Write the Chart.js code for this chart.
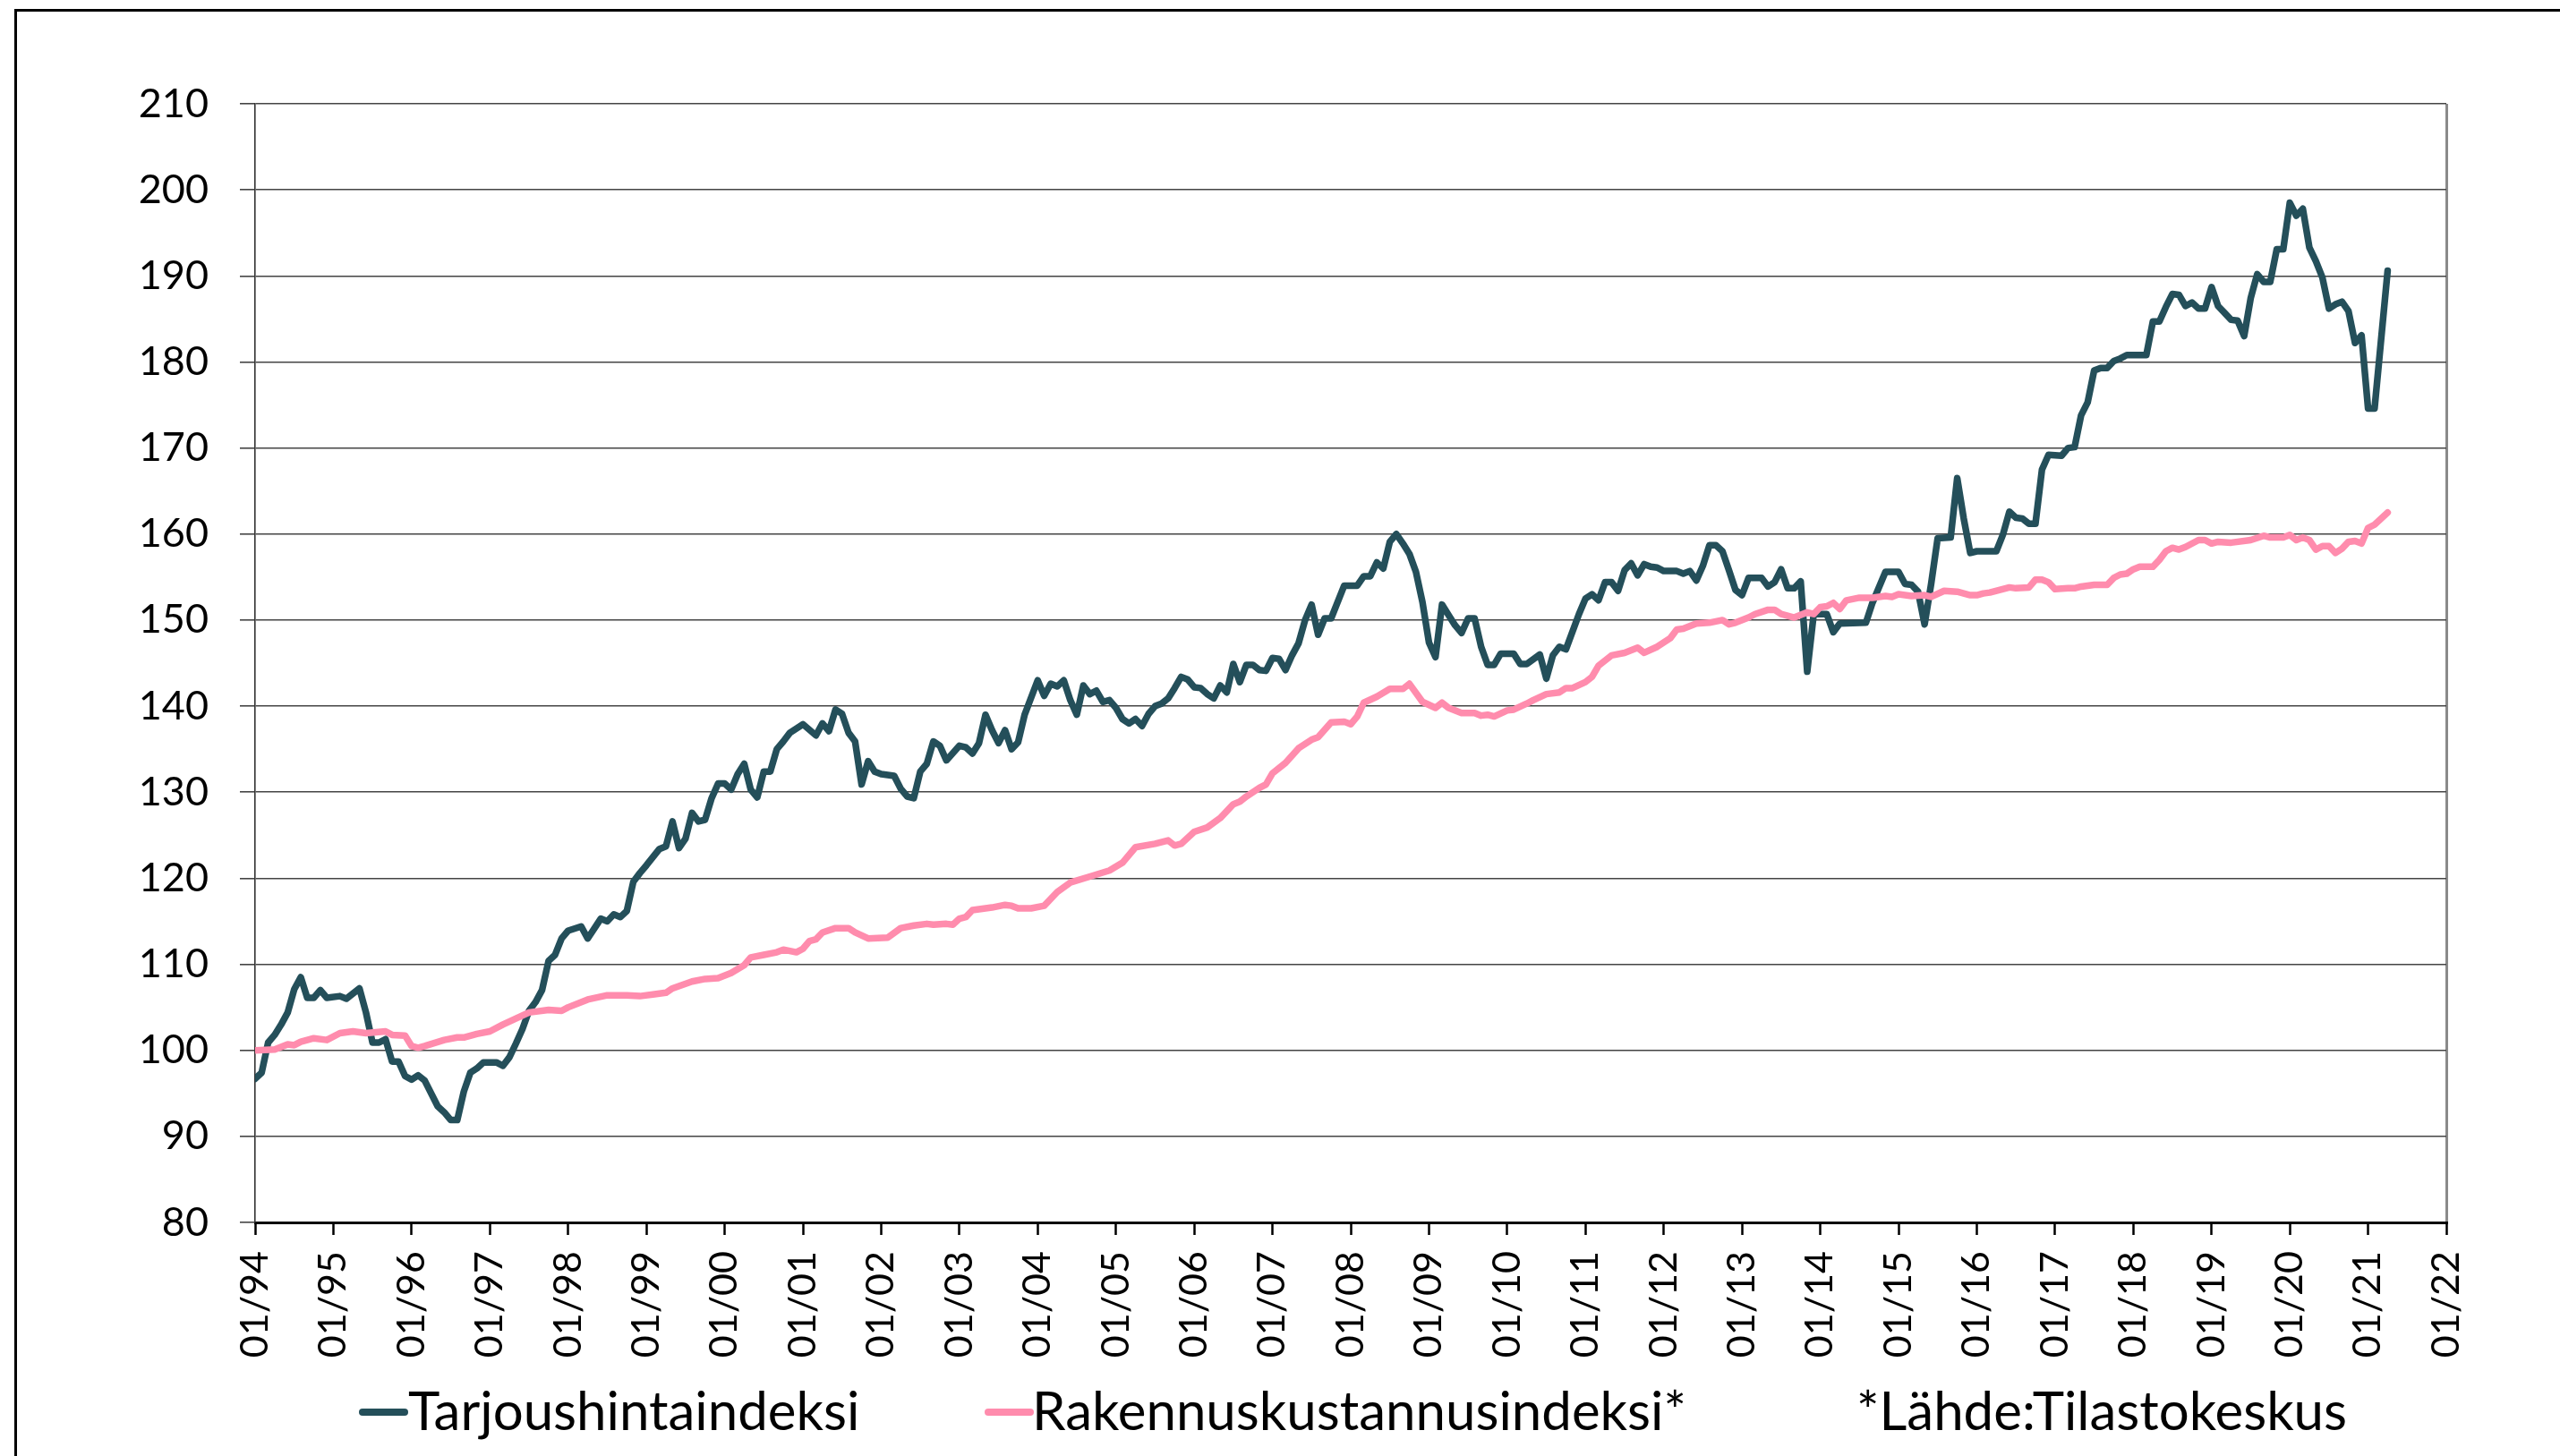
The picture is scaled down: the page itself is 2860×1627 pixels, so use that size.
<!DOCTYPE html>
<html lang="fi">
<head>
<meta charset="utf-8">
<title>Tarjoushintaindeksi ja Rakennuskustannusindeksi</title>
<script src="https://cdn.jsdelivr.net/npm/chart.js@4.4.1/dist/chart.umd.min.js"></script>
<style>
    html, body { margin: 0; padding: 0; background: #fff; overflow: hidden; }
    #kehys { position: absolute; left: 16px; top: 10px; width: 2900px; height: 1700px; border: 3px solid #000; }
    #kaavio { position: absolute; left: 0; top: 0; }
    #selite { position: absolute; left: 0; top: 0; width: 2860px; height: 1627px; font-family: Lato, sans-serif; font-size: 60px; color: #000; }
    .teksti { position: absolute; top: 1539px; line-height: 1.2; white-space: nowrap; }
    .viiva { position: absolute; top: 1574px; width: 55px; height: 8px; border-radius: 4px; }
</style>
</head>
<body>
<div id="kehys"></div>
<canvas id="kaavio" width="2860" height="1627"></canvas>
<div id="selite"></div>
<script>
// Vaaka-akselin nimiöt (tammikuu joka vuosi)
const vuosiTikit = ['01/94', '01/95', '01/96', '01/97', '01/98', '01/99', '01/00', '01/01', '01/02', '01/03',
    '01/04', '01/05', '01/06', '01/07', '01/08', '01/09', '01/10', '01/11', '01/12', '01/13',
    '01/14', '01/15', '01/16', '01/17', '01/18', '01/19', '01/20', '01/21', '01/22'];

// Tarjoushintaindeksi: kuukausi (0 = 01/94) ja arvo
const tarjousKk = [
    0, 1, 2, 3, 4, 5, 6, 7, 8, 9,
    10, 11, 13, 14, 16, 17, 18, 19, 20, 21,
    22, 23, 24, 25, 26, 28, 29, 30, 31, 32,
    33, 34, 35, 37, 38, 39, 40, 41, 42, 43,
    44, 45, 46, 47, 48, 50, 51, 53, 54, 55,
    56, 57, 58, 59, 60, 62, 63, 64, 65, 66,
    67, 68, 69, 70, 71, 72, 73, 74, 75, 76,
    77, 78, 79, 80, 81, 82, 84, 86, 87, 88,
    89, 90, 91, 92, 93, 94, 95, 96, 98, 99,
    100, 101, 102, 103, 104, 105, 106, 108, 109, 110,
    111, 112, 113, 114, 115, 116, 117, 118, 120, 121,
    122, 123, 124, 125, 126, 127, 128, 129, 130, 131,
    132, 133, 134, 135, 136, 137, 138, 139, 140, 141,
    142, 143, 144, 145, 146, 147, 148, 149, 150, 151,
    152, 153, 154, 155, 156, 157, 158, 159, 160, 161,
    162, 163, 164, 165, 167, 169, 170, 171, 172, 173,
    174, 175, 176, 177, 178, 179, 180, 181, 182, 183,
    184, 185, 186, 187, 188, 189, 190, 191, 193, 194,
    195, 197, 198, 199, 200, 201, 203, 204, 205, 206,
    207, 208, 209, 210, 211, 212, 213, 214, 215, 216,
    218, 219, 220, 221, 222, 223, 224, 225, 226, 227,
    228, 229, 231, 232, 233, 234, 235, 236, 237, 238,
    239, 241, 242, 243, 247, 248, 250, 252, 253, 254,
    255, 256, 257, 258, 260, 261, 262, 263, 264, 267,
    268, 269, 270, 271, 272, 273, 274, 275, 277, 278,
    279, 280, 281, 282, 283, 284, 285, 286, 287, 290,
    291, 292, 293, 294, 295, 296, 297, 298, 299, 300,
    301, 302, 303, 304, 305, 306, 307, 308, 309, 310,
    311, 312, 313, 314, 315, 316, 317, 318, 319, 320,
    321, 322, 323, 324, 325, 327
];
const tarjousArvot = [
    96.7, 97.4, 100.9, 101.8, 103.0, 104.4, 107.1, 108.5, 106.1, 106.1,
    107.0, 106.1, 106.3, 106.0, 107.2, 104.4, 100.9, 100.9, 101.3, 98.7,
    98.7, 97.0, 96.6, 97.1, 96.5, 93.5, 92.8, 91.9, 91.9, 95.2,
    97.4, 97.9, 98.6, 98.6, 98.2, 99.2, 100.8, 102.5, 104.6, 105.6,
    107.0, 110.4, 111.1, 113.0, 113.9, 114.4, 113.0, 115.3, 115.0, 115.8,
    115.5, 116.2, 119.6, 120.6, 121.5, 123.4, 123.7, 126.6, 123.5, 124.6,
    127.6, 126.6, 126.8, 129.3, 131.0, 131.0, 130.3, 132.1, 133.3, 130.3,
    129.4, 132.4, 132.4, 135.0, 135.9, 136.9, 137.9, 136.6, 138.0, 137.1,
    139.6, 139.1, 136.9, 135.9, 130.9, 133.6, 132.4, 132.1, 131.9, 130.4,
    129.5, 129.3, 132.4, 133.3, 135.9, 135.4, 133.7, 135.4, 135.2, 134.5,
    135.7, 139.0, 137.2, 135.7, 137.2, 135.0, 135.8, 139.0, 143.0, 141.2,
    142.6, 142.3, 143.0, 140.7, 139.0, 142.4, 141.4, 141.8, 140.5, 140.7,
    139.8, 138.5, 138.0, 138.5, 137.7, 139.1, 140.0, 140.3, 140.9, 142.1,
    143.4, 143.1, 142.2, 142.1, 141.4, 140.9, 142.4, 141.6, 144.9, 142.8,
    144.8, 144.8, 144.2, 144.1, 145.6, 145.5, 144.2, 145.9, 147.3, 150.0,
    151.8, 148.3, 150.2, 150.2, 154.0, 154.0, 155.1, 155.1, 156.7, 156.0,
    159.1, 160.0, 158.9, 157.7, 155.6, 152.1, 147.4, 145.7, 151.8, 150.6,
    149.4, 148.5, 150.2, 150.2, 146.9, 144.8, 144.8, 146.1, 146.1, 144.9,
    144.9, 146.0, 143.2, 145.9, 146.9, 146.6, 150.7, 152.5, 153.0, 152.3,
    154.4, 154.4, 153.4, 155.8, 156.6, 155.2, 156.5, 156.2, 156.1, 155.7,
    155.7, 155.4, 155.7, 154.6, 156.3, 158.7, 158.7, 158.0, 155.8, 153.5,
    152.9, 154.9, 154.9, 153.9, 154.4, 155.9, 153.7, 153.7, 154.5, 144.0,
    150.7, 150.7, 148.6, 149.6, 149.7, 152.0, 155.6, 155.6, 154.2, 154.1,
    153.3, 149.5, 154.2, 159.5, 159.6, 166.5, 161.8, 157.8, 158.0, 158.0,
    159.9, 162.6, 161.9, 161.8, 161.2, 161.2, 167.5, 169.2, 169.1, 170.0,
    170.1, 173.8, 175.3, 179.0, 179.3, 179.3, 180.1, 180.4, 180.8, 180.8,
    184.7, 184.7, 186.4, 187.9, 187.8, 186.5, 186.9, 186.2, 186.2, 188.7,
    186.5, 185.7, 184.9, 184.8, 183.0, 187.4, 190.2, 189.3, 189.3, 193.1,
    193.1, 198.5, 197.0, 197.8, 193.3, 191.7, 189.8, 186.2, 186.7, 187.0,
    185.9, 182.2, 183.1, 174.6, 174.6, 190.6
];

// Rakennuskustannusindeksi: kuukausi ja arvo
const rakennusKk = [
    0, 3, 5, 6, 7, 9, 11, 13, 15, 17,
    20, 21, 23, 24, 25, 26, 29, 31, 32, 34,
    36, 38, 40, 42, 45, 47, 48, 51, 54, 57,
    59, 61, 63, 64, 67, 69, 71, 73, 75, 76,
    78, 80, 81, 83, 84, 85, 86, 87, 89, 91,
    92, 94, 97, 99, 101, 103, 104, 106, 107, 108,
    109, 110, 113, 115, 116, 117, 119, 121, 123, 125,
    128, 131, 133, 135, 138, 140, 141, 142, 144, 146,
    148, 150, 151, 152, 154, 155, 156, 158, 160, 161,
    162, 163, 165, 167, 168, 169, 170, 172, 174, 176,
    177, 179, 181, 182, 183, 185, 187, 188, 189, 190,
    192, 193, 195, 196, 198, 200, 201, 202, 204, 205,
    206, 208, 210, 212, 213, 215, 217, 218, 219, 221,
    223, 225, 226, 227, 229, 230, 232, 233, 234, 236,
    238, 239, 240, 241, 242, 243, 244, 246, 248, 250,
    251, 252, 254, 256, 257, 259, 261, 263, 264, 265,
    266, 269, 270, 272, 273, 274, 275, 276, 278, 279,
    280, 282, 284, 285, 286, 287, 288, 289, 291, 292,
    293, 294, 295, 296, 298, 299, 300, 301, 303, 306,
    308, 309, 311, 312, 313, 314, 315, 316, 317, 318,
    319, 320, 321, 322, 323, 324, 325, 326, 327
];
const rakennusArvot = [
    100.0, 100.1, 100.7, 100.6, 101.0, 101.4, 101.2, 102.0, 102.2, 102.0,
    102.2, 101.8, 101.7, 100.5, 100.3, 100.5, 101.2, 101.5, 101.5, 101.9,
    102.2, 103.0, 103.7, 104.4, 104.7, 104.6, 105.0, 105.9, 106.4, 106.4,
    106.3, 106.5, 106.7, 107.2, 108.0, 108.3, 108.4, 109.0, 109.9, 110.8,
    111.1, 111.4, 111.7, 111.4, 111.8, 112.7, 112.9, 113.7, 114.2, 114.2,
    113.7, 113.0, 113.1, 114.2, 114.5, 114.7, 114.6, 114.7, 114.6, 115.3,
    115.5, 116.3, 116.6, 116.9, 116.8, 116.5, 116.5, 116.8, 118.4, 119.5,
    120.2, 120.9, 121.8, 123.6, 124.0, 124.4, 123.8, 124.0, 125.4, 125.9,
    127.0, 128.6, 128.9, 129.5, 130.5, 130.9, 132.2, 133.4, 135.1, 135.6,
    136.1, 136.4, 138.1, 138.2, 137.9, 138.8, 140.4, 141.1, 142.0, 142.0,
    142.6, 140.5, 139.8, 140.4, 139.8, 139.2, 139.2, 138.9, 139.0, 138.8,
    139.5, 139.6, 140.3, 140.7, 141.4, 141.6, 142.1, 142.1, 142.8, 143.4,
    144.7, 145.9, 146.2, 146.8, 146.2, 146.9, 147.9, 148.9, 149.0, 149.6,
    149.7, 150.0, 149.5, 149.7, 150.3, 150.7, 151.2, 151.2, 150.7, 150.3,
    150.9, 150.7, 151.5, 151.6, 152.0, 151.3, 152.3, 152.6, 152.6, 152.8,
    152.7, 153.0, 152.8, 152.9, 152.7, 153.4, 153.3, 152.9, 152.9, 153.1,
    153.2, 153.8, 153.7, 153.8, 154.7, 154.7, 154.4, 153.6, 153.7, 153.7,
    153.9, 154.1, 154.1, 154.9, 155.3, 155.4, 155.9, 156.2, 156.2, 157.0,
    158.0, 158.4, 158.2, 158.5, 159.3, 159.3, 158.9, 159.1, 159.0, 159.3,
    159.8, 159.6, 159.6, 159.9, 159.3, 159.6, 159.3, 158.2, 158.6, 158.6,
    157.8, 158.3, 159.1, 159.2, 158.9, 160.7, 161.1, 161.8, 162.5
];

const lahde = '*Lähde:Tilastokeskus';

// Yhdistetään kuukaudet ja arvot pisteiksi
function pisteet(kk, arvot) {
    return kk.map((x, i) => ({ x: x, y: arvot[i] }));
}

const fontti = 'Lato, "Open Sans", sans-serif';

const ctx = document.getElementById('kaavio').getContext('2d');
const kaavio = new Chart(ctx, {
    type: 'line',
    data: {
        datasets: [
            {
                label: 'Tarjoushintaindeksi',
                data: pisteet(tarjousKk, tarjousArvot),
                borderColor: '#244f5a',
                backgroundColor: '#244f5a',
                borderWidth: 7.5,
                pointRadius: 0,
                borderJoinStyle: 'round',
                borderCapStyle: 'round',
                tension: 0,
                order: 2
            },
            {
                label: 'Rakennuskustannusindeksi*',
                data: pisteet(rakennusKk, rakennusArvot),
                borderColor: '#ff8cad',
                backgroundColor: '#ff8cad',
                borderWidth: 7.5,
                pointRadius: 0,
                borderJoinStyle: 'round',
                borderCapStyle: 'round',
                tension: 0,
                order: 1
            }
        ]
    },
    options: {
        responsive: false,
        animation: false,
        devicePixelRatio: 1,
        layout: {
            padding: { top: 116, right: 127, bottom: 0, left: 0 }
        },
        plugins: {
            legend: { display: false },
            tooltip: { enabled: false }
        },
        scales: {
            x: {
                type: 'linear',
                min: 0,
                max: (vuosiTikit.length - 1) * 12,
                afterFit: (scale) => { scale.height = 261; },
                ticks: {
                    stepSize: 12,
                    autoSkip: false,
                    minRotation: 90,
                    maxRotation: 90,
                    padding: 18,
                    color: '#000',
                    font: { family: fontti, size: 43 },
                    callback: (value) => vuosiTikit[Math.round(value / 12)]
                },
                grid: {
                    drawOnChartArea: true,
                    color: (c) => (c.tick && c.tick.value === (vuosiTikit.length - 1) * 12) ? '#8a8a8a' : 'rgba(0,0,0,0)',
                    lineWidth: 3,
                    tickColor: '#000',
                    tickWidth: 2.5,
                    tickLength: 14
                },
                border: { display: true, color: '#000', width: 3 }
            },
            y: {
                min: 80,
                max: 210,
                afterFit: (scale) => { scale.width = 285; },
                ticks: {
                    stepSize: 10,
                    padding: 35,
                    color: '#000',
                    font: { family: fontti, size: 45 }
                },
                grid: {
                    color: '#444',
                    lineWidth: 1.6,
                    tickLength: 17
                },
                border: { display: true, color: '#333', width: 1.6 }
            }
        }
    }
});

// Selite HTML:nä kaavion alle
const selite = document.getElementById('selite');
const seliteKohdat = [
    { viiva: 401, teksti: 456 },
    { viiva: 1100, teksti: 1153 }
];
kaavio.data.datasets.forEach((ds, i) => {
    const viiva = document.createElement('div');
    viiva.className = 'viiva';
    viiva.style.left = seliteKohdat[i].viiva + 'px';
    viiva.style.background = ds.borderColor;
    selite.appendChild(viiva);

    const teksti = document.createElement('div');
    teksti.className = 'teksti';
    teksti.style.left = seliteKohdat[i].teksti + 'px';
    teksti.textContent = ds.label;
    selite.appendChild(teksti);
});
const lahdeTeksti = document.createElement('div');
lahdeTeksti.className = 'teksti';
lahdeTeksti.style.left = '2074px';
lahdeTeksti.textContent = lahde;
selite.appendChild(lahdeTeksti);
</script>
</body>
</html>
